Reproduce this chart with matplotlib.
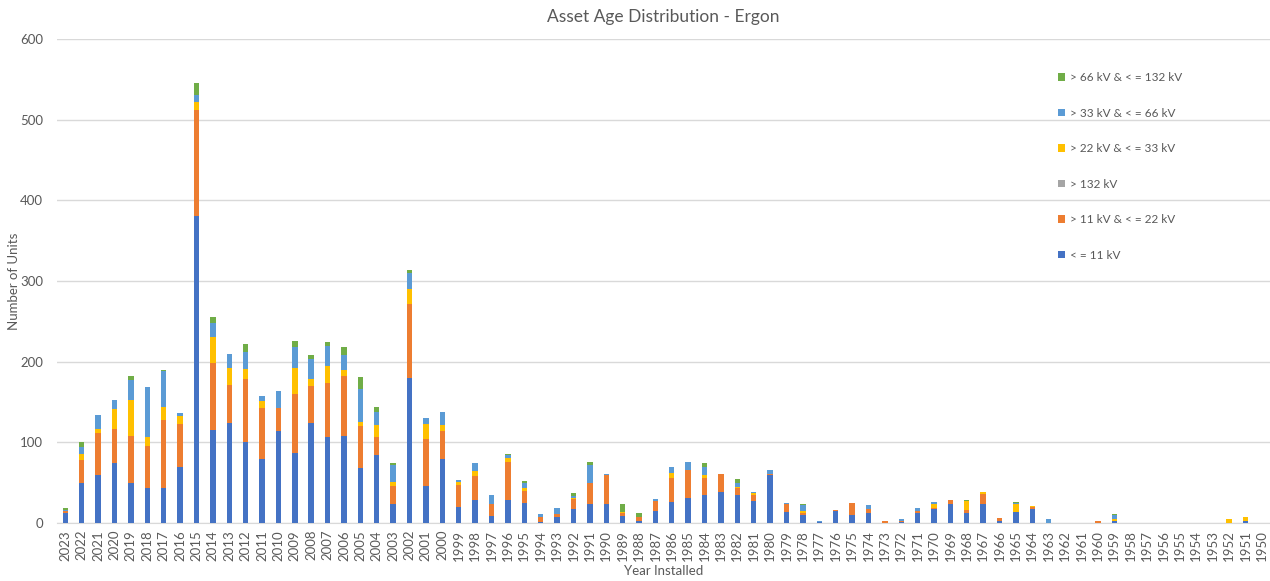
import numpy as np
import matplotlib.pyplot as plt
from matplotlib.patches import Rectangle

plt.rcParams['font.family'] = ['Lato', 'DejaVu Sans']

# years shown from newest to oldest, as in the source chart
years = list(range(2023, 1949, -1))

# values, one per year (2023 ... 1950)
kv_11 = [12, 49, 60, 74, 49, 44, 44, 69, 380, 115, 124, 101, 79, 114, 87, 124, 106, 108, 68, 84, 24,
         180, 46, 79, 20, 28, 9, 29, 25, 1, 7, 17, 23, 23, 9, 2, 15, 26,
         31, 35, 39, 35, 27, 60, 14, 10, 1, 15, 10, 13, 0, 1, 13, 17, 23, 12,
         23, 3, 14, 17, 0, 0, 0, 0, 3, 0, 0, 0, 0, 0, 0, 0, 3, 0]
kv_22 = [3, 29, 51, 43, 59, 51, 84, 54, 132, 83, 47, 78, 64, 28, 73, 46, 67, 74, 52, 23, 22,
         92, 58, 35, 27, 30, 15, 47, 15, 6, 4, 13, 26, 37, 4, 5, 12, 30,
         35, 21, 22, 9, 8, 1, 10, 3, 0, 1, 15, 4, 2, 2, 2, 2, 6, 4,
         13, 3, 0, 3, 0, 0, 0, 3, 0, 0, 0, 0, 0, 0, 0, 0, 0, 0]
kv_132plus = [0] * 74
kv_33 = [0, 7, 6, 24, 45, 12, 16, 10, 10, 32, 21, 12, 8, 1, 32, 9, 22, 8, 5, 14, 5,
         18, 19, 7, 4, 6, 0, 5, 3, 0, 0, 1, 0, 0, 1, 0, 0, 6,
         0, 3, 0, 1, 2, 0, 0, 2, 0, 0, 0, 0, 0, 0, 0, 5, 0, 11,
         3, 0, 10, 1, 0, 0, 0, 0, 2, 0, 0, 0, 0, 0, 0, 5, 4, 0]
kv_66 = [1, 9, 17, 11, 24, 62, 44, 3, 8, 18, 18, 21, 6, 20, 26, 24, 24, 18, 41, 16, 21,
         20, 7, 17, 2, 10, 11, 3, 7, 4, 8, 3, 23, 1, 0, 0, 3, 7,
         10, 11, 0, 4, 2, 5, 1, 7, 1, 0, 0, 5, 0, 2, 3, 2, 0, 0,
         0, 0, 1, 0, 5, 0, 0, 0, 5, 0, 0, 0, 0, 0, 0, 0, 0, 0]
kv_132 = [2, 6, 0, 0, 5, 0, 2, 0, 15, 7, 0, 10, 0, 1, 7, 5, 5, 10, 15, 7, 2,
          3, 0, 0, 0, 0, 0, 2, 2, 0, 0, 3, 3, 0, 10, 5, 0, 0,
          0, 4, 0, 5, 0, 0, 0, 1, 1, 0, 0, 0, 0, 0, 0, 0, 0, 2,
          0, 0, 1, 0, 0, 0, 0, 0, 1, 0, 0, 0, 0, 0, 0, 0, 0, 0]

series = [
    ('< = 11 kV', kv_11, '#4472C4'),
    ('> 11 kV & < = 22 kV', kv_22, '#ED7D31'),
    ('> 132 kV', kv_132plus, '#A5A5A5'),
    ('> 22 kV & < = 33 kV', kv_33, '#FFC000'),
    ('> 33 kV & < = 66 kV', kv_66, '#5B9BD5'),
    ('> 66 kV & < = 132 kV', kv_132, '#70AD47'),
]

txt = '#595959'
fig = plt.figure(figsize=(12.7, 5.81), dpi=100)
ax = fig.add_axes([0.045, 0.0998, 0.955, 0.8333])

x = np.arange(len(years))
bottom = np.zeros(len(years))
for name, vals, col in series:
    ax.bar(x, vals, width=0.33, bottom=bottom, color=col, label=name, zorder=3)
    bottom += np.array(vals)

ax.set_xlim(-0.5, len(years) - 0.5)
ax.set_ylim(0, 600)
ax.set_yticks(range(0, 601, 100))
ax.set_xticks(x)
ax.set_xticklabels([str(y) for y in years], rotation=90, fontsize=9.5, color=txt)
ax.tick_params(axis='y', labelsize=9.5, colors=txt, length=0, pad=10)
ax.tick_params(axis='x', length=0, pad=5)
ax.grid(axis='y', color='#D9D9D9', linewidth=1, zorder=0)
for s in ['top', 'right', 'left']:
    ax.spines[s].set_visible(False)
ax.spines['bottom'].set_color('#D9D9D9')

ax.set_title('Asset Age Distribution - Ergon', fontsize=12.5, color=txt, pad=12)
fig.text(14 / 1270, 1 - 281 / 581, 'Number of Units', rotation=90, fontsize=9.5,
         color=txt, ha='center', va='center')
ax.set_xlabel('Year Installed', fontsize=9.5, color=txt, labelpad=3)

# white box behind the legend, hiding the gridlines there
ax.add_patch(Rectangle((1028 / 1270, 1 - 275 / 581), 180 / 1270, 222 / 581,
                       transform=fig.transFigure, facecolor='white', edgecolor='none',
                       zorder=1, clip_on=False))

h, l = ax.get_legend_handles_labels()
leg = ax.legend(h[::-1], l[::-1], loc='upper left', bbox_to_anchor=(1058 / 1270, 1 - 72 / 581),
                bbox_transform=fig.transFigure, fontsize=8.5, labelcolor=txt,
                frameon=False, handlelength=0.6, handleheight=0.6, handletextpad=0.4,
                labelspacing=2.08, borderpad=0, borderaxespad=0)

fig.savefig('out.png', dpi=100)
